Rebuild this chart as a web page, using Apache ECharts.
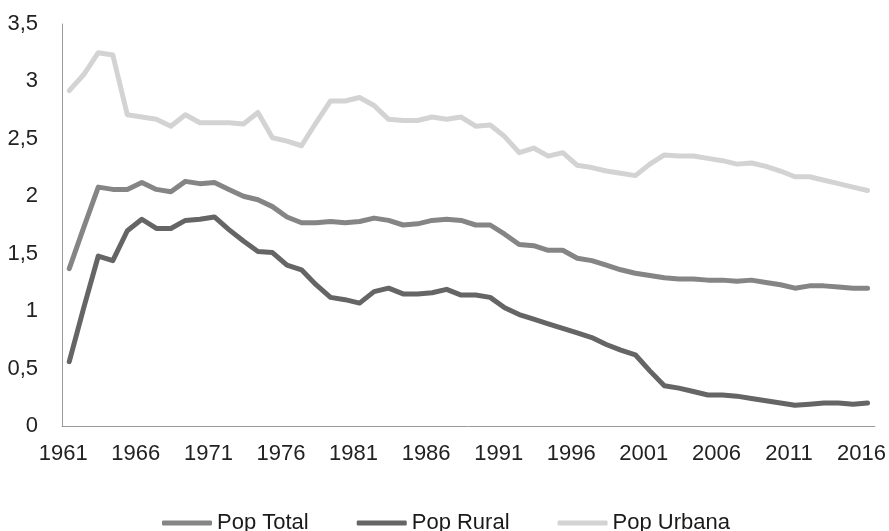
<!DOCTYPE html>
<html>
<head>
<meta charset="utf-8">
<script src="https://cdn.jsdelivr.net/npm/echarts@6/dist/echarts.min.js"></script>
<style>
html,body{margin:0;padding:0;background:#fff;}
#chart{width:889px;height:531px;}
</style>
</head>
<body>
<div id="chart"></div>
<script>
var years = ['1961','1962','1963','1964','1965','1966','1967','1968','1969','1970',
  '1971','1972','1973','1974','1975','1976','1977','1978','1979','1980',
  '1981','1982','1983','1984','1985','1986','1987','1988','1989','1990',
  '1991','1992','1993','1994','1995','1996','1997','1998','1999','2000',
  '2001','2002','2003','2004','2005','2006','2007','2008','2009','2010',
  '2011','2012','2013','2014','2015','2016'];

var popTotal = [1.37,1.73,2.08,2.06,2.06,2.12,2.06,2.04,2.13,2.11,
  2.12,2.06,2.00,1.97,1.91,1.82,1.77,1.77,1.78,1.77,
  1.78,1.81,1.79,1.75,1.76,1.79,1.80,1.79,1.75,1.75,
  1.67,1.58,1.57,1.53,1.53,1.46,1.44,1.40,1.36,1.33,
  1.31,1.29,1.28,1.28,1.27,1.27,1.26,1.27,1.25,1.23,
  1.20,1.22,1.22,1.21,1.20,1.20];

var popRural = [0.56,1.03,1.48,1.44,1.70,1.80,1.72,1.72,1.79,1.80,
  1.82,1.71,1.61,1.52,1.51,1.40,1.36,1.23,1.12,1.10,
  1.07,1.17,1.20,1.15,1.15,1.16,1.19,1.14,1.14,1.12,
  1.03,0.97,0.93,0.89,0.85,0.81,0.77,0.71,0.66,0.62,
  0.48,0.35,0.33,0.30,0.27,0.27,0.26,0.24,0.22,0.20,
  0.18,0.19,0.20,0.20,0.19,0.20];

var popUrbana = [2.92,3.06,3.25,3.23,2.71,2.69,2.67,2.61,2.71,2.64,
  2.64,2.64,2.63,2.73,2.51,2.48,2.44,2.64,2.83,2.83,
  2.86,2.79,2.67,2.66,2.66,2.69,2.67,2.69,2.61,2.62,
  2.52,2.38,2.42,2.35,2.38,2.27,2.25,2.22,2.20,2.18,
  2.28,2.36,2.35,2.35,2.33,2.31,2.28,2.29,2.26,2.22,
  2.17,2.17,2.14,2.11,2.08,2.05];

var seriesNames = ['Pop Total','Pop Rural','Pop Urbana'];
var seriesColors = ['#858585','#656565','#d3d3d3'];

var axisFont = '"Liberation Sans Narrow","Liberation Sans",Arial,sans-serif';
var legendFont = '"Liberation Sans",Arial,sans-serif';

var chart = echarts.init(document.getElementById('chart'), null, {renderer:'canvas'});

function mkSeries(name, data, color) {
  return {
    name: name, type: 'line', data: data,
    symbol: 'none', smooth: false,
    lineStyle: {color: color, width: 5, cap: 'round', join: 'round'},
    itemStyle: {color: color},
    emphasis: {disabled: true}
  };
}

chart.setOption({
  animation: false,
  backgroundColor: '#ffffff',
  grid: {left: 62, right: 12, top: 24, bottom: 105, containLabel: false},
  legend: {
    data: seriesNames,
    left: 157, top: 507,
    icon: 'roundRect',
    itemWidth: 50, itemHeight: 5,
    itemGap: 48,
    textStyle: {fontFamily: legendFont, fontSize: 22, color: '#1a1a1a'}
  },
  xAxis: {
    type: 'category',
    data: years,
    boundaryGap: true,
    axisLine: {show: true, lineStyle: {color: '#999999', width: 1}},
    axisTick: {show: false},
    splitLine: {show: false},
    axisLabel: {
      interval: 4,
      margin: 17,
      padding: [0, 12, 0, 0],
      fontFamily: axisFont, fontSize: 22, color: '#222222'
    }
  },
  yAxis: {
    type: 'value',
    min: 0, max: 3.5, interval: 0.5,
    axisLine: {show: true, lineStyle: {color: '#999999', width: 1}},
    axisTick: {show: false},
    splitLine: {show: false},
    axisLabel: {
      margin: 24,
      fontFamily: axisFont, fontSize: 22, color: '#222222',
      formatter: function (v) { return String(v).replace('.', ','); }
    }
  },
  series: [
    mkSeries(seriesNames[0], popTotal, seriesColors[0]),
    mkSeries(seriesNames[1], popRural, seriesColors[1]),
    mkSeries(seriesNames[2], popUrbana, seriesColors[2])
  ]
});
</script>
</body>
</html>
